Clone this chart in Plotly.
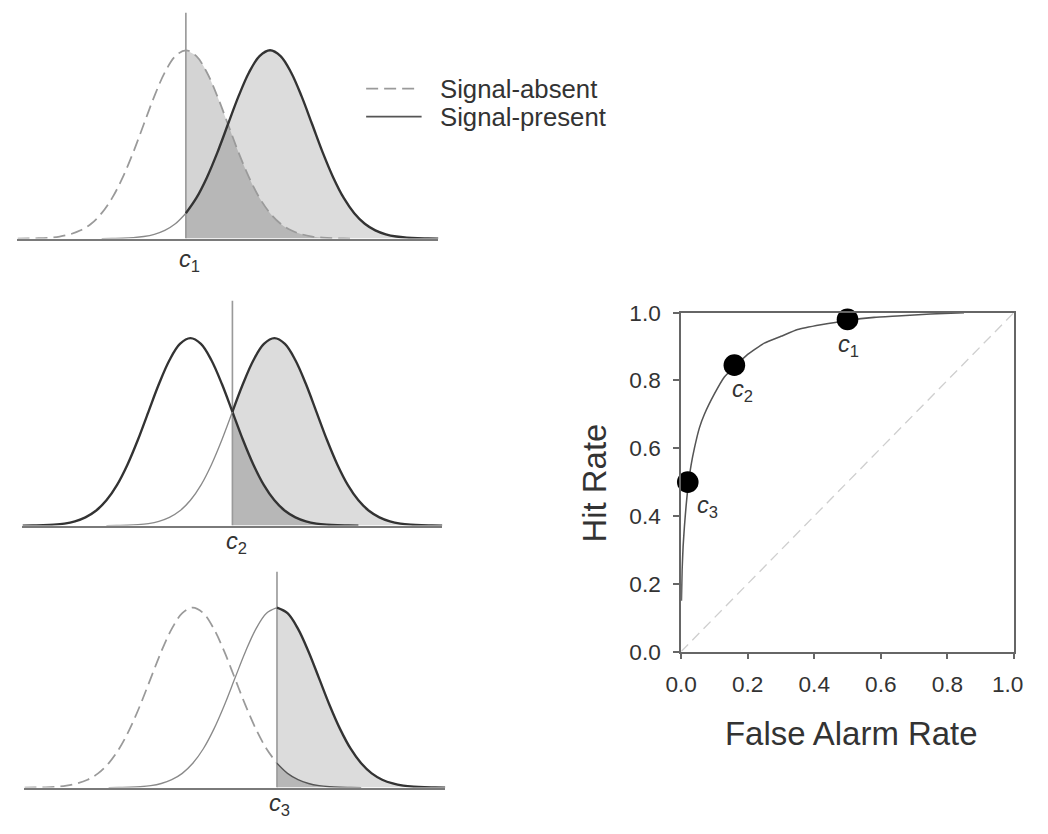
import plotly.graph_objects as go

# ---------------- data ----------------
# bell-shaped profile (offset from mean in SD units -> relative height)
profile_offsets = [-4.0, -3.75, -3.5, -3.25, -3.0, -2.75, -2.5, -2.25, -2.0, -1.75, -1.5, -1.25,
                   -1.0, -0.75, -0.5, -0.25, 0.0, 0.25, 0.5, 0.75, 1.0, 1.25, 1.5, 1.75,
                   2.0, 2.25, 2.5, 2.75, 3.0, 3.25, 3.5, 3.75, 4.0]
profile_heights = [0.000, 0.001, 0.002, 0.005, 0.011, 0.023, 0.044, 0.079, 0.135, 0.216, 0.325, 0.458,
                   0.607, 0.755, 0.882, 0.969, 1.000, 0.969, 0.882, 0.755, 0.607, 0.458, 0.325, 0.216,
                   0.135, 0.079, 0.044, 0.023, 0.011, 0.005, 0.002, 0.001, 0.000]
noise_mean = 0.0
signal_mean = 2.0
criteria = [0.0, 1.0, 2.0]
criterion_labels = ["<i>c</i><sub>1</sub>", "<i>c</i><sub>2</sub>", "<i>c</i><sub>3</sub>"]
legend_labels = ["Signal-absent", "Signal-present"]

roc_fa = [0.001, 0.003, 0.006, 0.01, 0.015, 0.02, 0.03, 0.04, 0.055, 0.07, 0.1, 0.13, 0.16,
          0.2, 0.25, 0.3, 0.35, 0.42, 0.5, 0.58, 0.65, 0.75, 0.85]
roc_hr = [0.15, 0.24, 0.31, 0.37, 0.43, 0.48, 0.55, 0.60, 0.66, 0.70, 0.76, 0.81, 0.84,
          0.877, 0.91, 0.93, 0.95, 0.964, 0.977, 0.986, 0.99, 0.996, 1.0]
point_fa = [0.5, 0.16, 0.02]
point_hr = [0.98, 0.845, 0.5]
point_labels = ["<i>c</i><sub>1</sub>", "<i>c</i><sub>2</sub>", "<i>c</i><sub>3</sub>"]
chance_x = [0, 1]
chance_y = [0, 1]
tick_vals = [0.0, 0.2, 0.4, 0.6, 0.8, 1.0]
tick_text = ["0.0", "0.2", "0.4", "0.6", "0.8", "1.0"]

# ---------------- layout helpers ----------------
W, H = 1048, 834
FONT = "Liberation Sans, Arial, sans-serif"
# the photographed page comes out slightly shrunk and centred; positions below are
# given in target-picture pixels and mapped back to figure pixels
SX, OX = 0.973, 13.5
SY, OY = 0.970, 11.4
S = (SX + SY) / 2


def px(v):
    return v / S


def X(p):
    return ((p - OX) / SX) / W


def Y(p):
    return 1 - ((p - OY) / SY) / H


def xd(a, b):
    return [X(a), X(b)]


def yd(top, bottom):
    return [Y(bottom), Y(top)]


fig = go.Figure()

panel_dom = [
    (xd(15, 440), yd(12, 238)),
    (xd(20, 444), yd(300, 525)),
    (xd(22, 447), yd(571, 787)),
]
crit_label_shift = [(4, -22), (4, -17), (2, -16.5)]

DASH = "12px,6px"
for i, c in enumerate(criteria):
    xa = "x" if i == 0 else f"x{i+1}"
    ya = "y" if i == 0 else f"y{i+1}"
    nx = [noise_mean + o for o in profile_offsets]
    sx = [signal_mean + o for o in profile_offsets]
    ny = profile_heights
    sy = profile_heights

    s_r = [(x, y) for x, y in zip(sx, sy) if x >= c - 1e-9]
    s_l = [(x, y) for x, y in zip(sx, sy) if x <= c + 1e-9]
    n_r = [(x, y) for x, y in zip(nx, ny) if x >= c - 1e-9]
    n_l = [(x, y) for x, y in zip(nx, ny) if x <= c + 1e-9]

    # fills
    fig.add_trace(go.Scatter(x=[p[0] for p in s_r], y=[p[1] for p in s_r], mode="lines",
                             line=dict(width=0, shape="spline"), fill="tozeroy",
                             fillcolor="#dcdcdc", xaxis=xa, yaxis=ya, showlegend=False,
                             hoverinfo="skip"))
    fig.add_trace(go.Scatter(x=[p[0] for p in n_r], y=[p[1] for p in n_r], mode="lines",
                             line=dict(width=0, shape="spline"), fill="tozeroy",
                             fillcolor="rgba(0,0,0,0.17)", xaxis=xa, yaxis=ya, showlegend=False,
                             hoverinfo="skip"))
    # criterion line
    fig.add_trace(go.Scatter(x=[c, c], y=[0, 1.2], mode="lines",
                             line=dict(color="#9a9a9a", width=px(1.6)), xaxis=xa, yaxis=ya,
                             showlegend=False, hoverinfo="skip"))
    # noise curve
    if i == 0:
        fig.add_trace(go.Scatter(x=nx, y=ny, mode="lines",
                                 line=dict(color="#9a9a9a", width=px(1.7), dash=DASH, shape="spline"),
                                 xaxis=xa, yaxis=ya, showlegend=False))
    elif i == 1:
        fig.add_trace(go.Scatter(x=nx, y=ny, mode="lines",
                                 line=dict(color="#333333", width=px(2.3), shape="spline"),
                                 xaxis=xa, yaxis=ya, showlegend=False))
    else:
        fig.add_trace(go.Scatter(x=[p[0] for p in n_l], y=[p[1] for p in n_l], mode="lines",
                                 line=dict(color="#9a9a9a", width=px(1.7), dash=DASH, shape="spline"),
                                 xaxis=xa, yaxis=ya, showlegend=False))
        fig.add_trace(go.Scatter(x=[p[0] for p in n_r], y=[p[1] for p in n_r], mode="lines",
                                 line=dict(color="#555555", width=px(1.3), shape="spline"),
                                 xaxis=xa, yaxis=ya, showlegend=False))
    # signal curve
    fig.add_trace(go.Scatter(x=[p[0] for p in s_l], y=[p[1] for p in s_l], mode="lines",
                             line=dict(color="#8a8a8a", width=px(1.3), shape="spline"),
                             xaxis=xa, yaxis=ya, showlegend=False))
    fig.add_trace(go.Scatter(x=[p[0] for p in s_r], y=[p[1] for p in s_r], mode="lines",
                             line=dict(color="#333333", width=px(2.3), shape="spline"),
                             xaxis=xa, yaxis=ya, showlegend=False))
    # criterion label
    lx, ly = crit_label_shift[i]
    fig.add_annotation(x=c, y=0, xref=xa, yref=ya, text=criterion_labels[i], showarrow=False,
                       xanchor="center", yanchor="middle",
                       yshift=px(ly), xshift=px(lx),
                       font=dict(family=FONT, size=px(23), color="#333333"))

    dx, dy = panel_dom[i]
    fig.update_layout(**{
        ("xaxis" if i == 0 else f"xaxis{i+1}"): dict(
            domain=dx, range=[-4, 6], showline=True, linecolor="#7a7a7a", linewidth=px(2),
            showticklabels=False, ticks="", showgrid=False, zeroline=False, anchor=ya),
        ("yaxis" if i == 0 else f"yaxis{i+1}"): dict(
            domain=dy, range=[0, 1.2], visible=False, anchor=xa),
    })

# ---------------- ROC panel ----------------
fig.add_trace(go.Scatter(x=chance_x, y=chance_y, mode="lines",
                         line=dict(color="#cfcfcf", width=px(1.3), dash="10px,6px"),
                         xaxis="x4", yaxis="y4", showlegend=False))
fig.add_trace(go.Scatter(x=roc_fa, y=roc_hr, mode="lines",
                         line=dict(color="#555555", width=px(1.5), shape="spline", smoothing=0.4),
                         xaxis="x4", yaxis="y4", showlegend=False))
fig.add_trace(go.Scatter(x=point_fa, y=point_hr, mode="markers",
                         marker=dict(color="black", size=px(21)), cliponaxis=False,
                         xaxis="x4", yaxis="y4", showlegend=False))
label_shift = [(1, -26), (8, -25), (19, -24)]
for (fx, hy, t, (sxh, syh)) in zip(point_fa, point_hr, point_labels, label_shift):
    fig.add_annotation(x=fx, y=hy, xref="x4", yref="y4", text=t, showarrow=False,
                       xanchor="center", yanchor="middle",
                       xshift=px(sxh), yshift=px(syh),
                       font=dict(family=FONT, size=px(23), color="#333333"))

axis_common = dict(range=[0, 1], tickvals=tick_vals, showline=True,
                   mirror=True, linecolor="#666666", linewidth=px(1.5), ticks="outside",
                   ticklen=int(round(px(6))), tickcolor="#666666", tickwidth=px(1.5),
                   showgrid=False, zeroline=False,
                   tickfont=dict(family=FONT, size=px(22), color="#333333"))
# the last x label is nudged left with trailing no-break spaces so it stays inside the page
x_tick_text = tick_text[:-1] + [tick_text[-1] + "\u00a0\u00a0"]
rx, ry = xd(685, 1021), yd(312, 651)
fig.update_layout(
    xaxis4=dict(domain=rx, anchor="y4", ticktext=x_tick_text, ticklabeloverflow="allow",
                ticklabelstandoff=int(round(px(5))), **axis_common),
    yaxis4=dict(domain=ry, anchor="x4", ticktext=tick_text,
                ticklabelstandoff=int(round(px(8))), **axis_common),
)

# axis titles
fig.add_annotation(x=X(598), y=Y(482), xref="paper", yref="paper", text="Hit Rate",
                   textangle=-90, showarrow=False, xanchor="center", yanchor="middle",
                   font=dict(family=FONT, size=px(32), color="#333333"))
fig.add_annotation(x=X(857), y=Y(733), xref="paper", yref="paper", text="False Alarm Rate",
                   showarrow=False, xanchor="center", yanchor="middle",
                   font=dict(family=FONT, size=px(32), color="#333333"))

# legend (top panel)
fig.add_shape(type="line", xref="paper", yref="paper", x0=X(367), x1=X(421),
              y0=Y(88), y1=Y(88), line=dict(color="#9a9a9a", width=px(1.7), dash=DASH))
fig.add_shape(type="line", xref="paper", yref="paper", x0=X(367), x1=X(423),
              y0=Y(116), y1=Y(116), line=dict(color="#555555", width=px(1.7)))
for lbl, ypx in zip(legend_labels, [88, 116]):
    fig.add_annotation(x=X(440), y=Y(ypx), xref="paper", yref="paper", text=lbl,
                       showarrow=False, xanchor="left", yanchor="middle",
                       font=dict(family=FONT, size=px(25), color="#333333"))

fig.update_layout(width=W, height=H, autosize=False,
                  margin=dict(l=0, r=0, t=0, b=0),
                  paper_bgcolor="white", plot_bgcolor="rgba(0,0,0,0)",
                  showlegend=False)

fig.write_html("out.html", config={"displayModeBar": False},
               post_script="document.body.style.margin='0';document.body.style.overflow='hidden';")
